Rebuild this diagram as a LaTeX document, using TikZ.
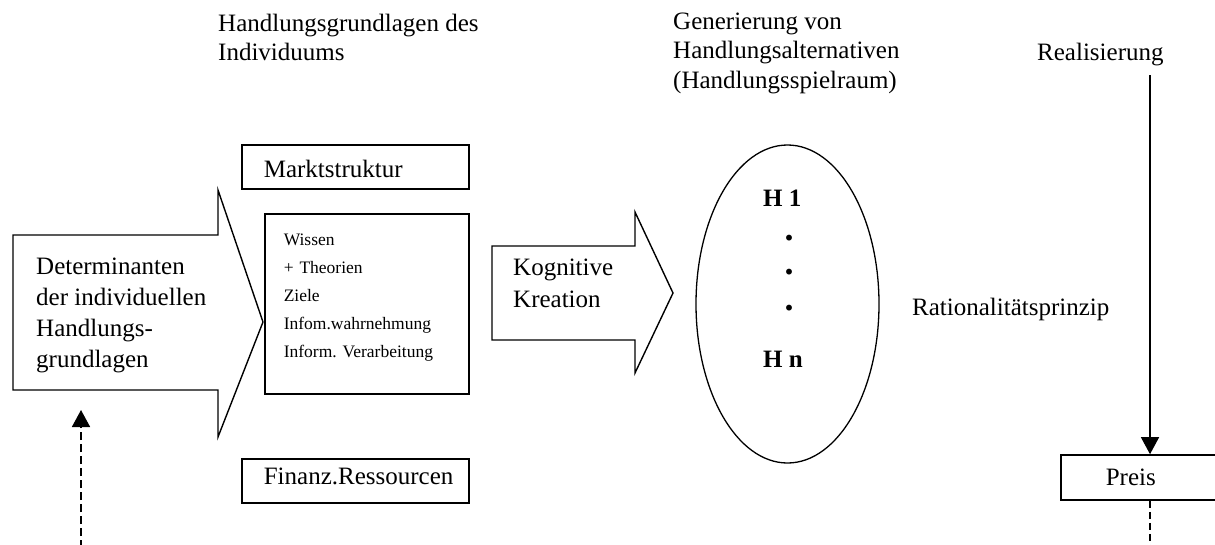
\documentclass[tikz,border=0pt]{standalone}
\usepackage{fontspec}
\setmainfont{Liberation Serif}
\usetikzlibrary{arrows.meta,positioning,shapes.geometric}
\frenchspacing

\begin{document}
\begin{tikzpicture}[x=1pt, y=-1pt]
      \tikzstyle{lbl} = [inner sep=0pt, anchor=base west, align=left, font=\fontsize{25}{29}\selectfont]
      \tikzstyle{big} = [lbl, font=\fontsize{25}{31}\selectfont]
      \tikzstyle{hyp} = [inner sep=0pt, anchor=base west, font=\fontsize{25}{29}\selectfont\bfseries]
      \tikzstyle{dot} = [inner sep=0pt, anchor=base, font=\fontsize{36}{36}\selectfont\bfseries]
      \tikzstyle{box} = [rectangle, draw=black, line width=1.6pt, anchor=base west, align=left, inner ysep=0pt, inner xsep=22pt, text width=183pt, font=\fontsize{25}{29}\selectfont]
      \tikzstyle{list} = [box, inner xsep=19pt, text width=166pt, font=\fontsize{17.5}{28}\selectfont]
      \tikzstyle{outline} = [draw=black, line width=1.4pt, line join=miter]
      \tikzstyle{arrow} = [line width=1.3pt, -{Triangle[width=18pt,length=17pt]}]
      \tikzstyle{dasharrow} = [arrow, line width=1.6pt, dash pattern=on 8pt off 4pt]

      \useasboundingbox (0,0) rectangle (1215,544);

      \node (basis) [lbl] at (218,60) {Handlungsgrundlagen des\\Individuums};
      \node (gen) [lbl, font=\fontsize{25}{29.5}\selectfont] at (673,88) {Generierung von\\Handlungsalternativen\\(Handlungsspielraum)};
      \node (real) [lbl] at (1037,60) {Realisierung};

      \draw [outline] (13,235) -- (218,235) -- (218,190) -- (263,322) -- (218,437) -- (218,390) -- (13,390) -- cycle;
      \node (det) [big] at (36,367) {Determinanten\\der individuellen\\Handlungs-\\grundlagen};

      \node (markt) [box, text height=32pt, text depth=12pt] at (241,177) {Marktstruktur};
      \node (wissen) [list, text height=31pt, text depth=149pt] at (264,245) {Wissen\\+ Theorien\\Ziele\\Infom.wahrnehmung\\Inform. Verarbeitung};
      \node (finanz) [box, text height=25pt, text depth=19pt] at (241,484) {Finanz.Ressourcen};

      \draw [outline] (492,246) -- (635,246) -- (635,212) -- (673,293) -- (635,373) -- (635,340) -- (492,340) -- cycle;
      \node (kog) [big, font=\fontsize{25}{32}\selectfont] at (513,307) {Kognitive\\Kreation};

      \node (alt) [ellipse, draw=black, line width=1.3pt, minimum width=183pt, minimum height=318pt, inner sep=0pt] at (787.5,304) {};
      \node (h1) [hyp] at (763,206) {H 1};
      \node (d1) [dot] at (789,240) {.};
      \node (d2) [dot] at (789,274) {.};
      \node (d3) [dot] at (789,310) {.};
      \node (hn) [hyp] at (763,367) {H n};
      \node (rat) [lbl] at (912,315) {Rationalitätsprinzip};

      \node (preis) [box, inner xsep=45pt, text width=150pt, text height=30pt, text depth=15pt] at (1060,485) {Preis};

      \coordinate (rtop) at (1150,75);
      \coordinate (pbot) at (1150,560);
      \coordinate (fbot) at (81,560);
      \coordinate (ftip) at (81,410);

      \draw [arrow] (rtop) -- (rtop |- preis.north);
      \draw [line width=1.3pt, dash pattern=on 7pt off 4pt] (pbot |- preis.south) -- (pbot);
      \draw [dasharrow] (fbot) -- (ftip);
\end{tikzpicture}
\end{document}
